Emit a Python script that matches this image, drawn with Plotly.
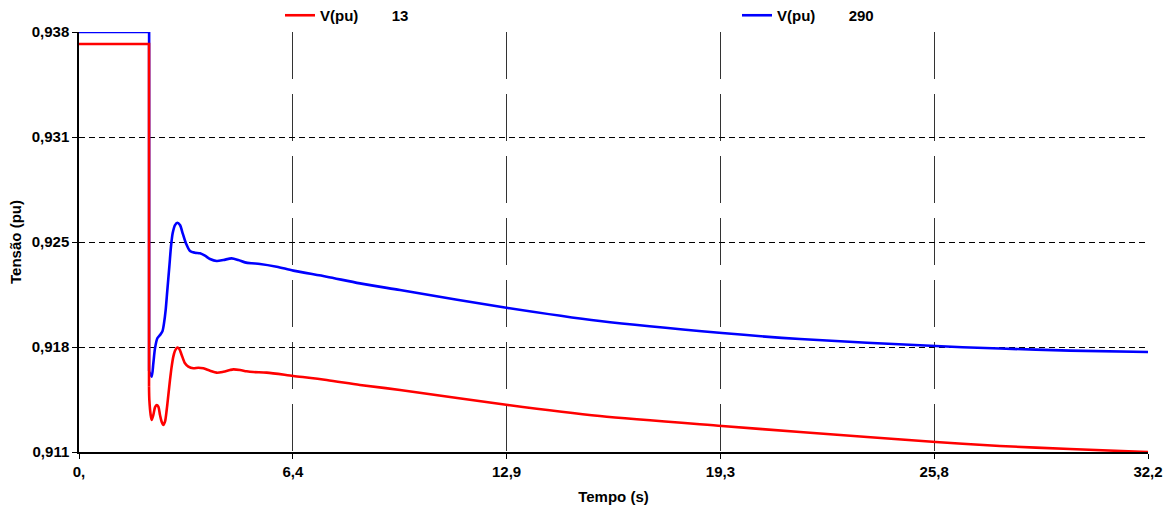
import plotly.graph_objects as go

# ---- data ----
t_red = [0.0, 2.109, 2.109, 2.119, 2.159, 2.189, 2.239, 2.289, 2.340, 2.390, 2.440,
         2.490, 2.540, 2.590, 2.641, 2.691, 2.741, 2.791, 2.841, 2.892, 2.962, 3.022,
         3.093, 3.193, 3.293, 3.444, 3.595, 3.745, 3.946, 4.147, 4.348, 4.548, 4.649,
         4.850, 5.050, 5.251, 5.653, 6.456, 7.460, 8.464, 9.67, 12.92, 15.69, 19.37,
         21.72, 25.81, 27.74, 29.85, 32.2]
v_red = [0.93723, 0.93723, 0.91520, 0.91434, 0.91338, 0.91306, 0.91338, 0.91387,
         0.91402, 0.91391, 0.91338, 0.91295, 0.91274, 0.91295, 0.91370, 0.91466,
         0.91563, 0.91649, 0.91713, 0.91751, 0.91771, 0.91762, 0.91724, 0.91670,
         0.91649, 0.91638, 0.91642, 0.91638, 0.91623, 0.91610, 0.91616, 0.91627,
         0.91631, 0.91627, 0.91619, 0.91614, 0.91610, 0.91589, 0.91563, 0.91531,
         0.91499, 0.91402, 0.91331, 0.91267, 0.91229, 0.91164, 0.91139, 0.91119,
         0.91100]

t_blue = [0.0, 2.112, 2.112, 2.189, 2.239, 2.289, 2.360, 2.440, 2.510, 2.560, 2.611,
          2.661, 2.721, 2.771, 2.821, 2.892, 2.962, 3.042, 3.123, 3.223, 3.344, 3.494,
          3.645, 3.795, 3.946, 4.147, 4.348, 4.599, 4.800, 5.000, 5.201, 5.452, 5.954,
          6.456, 7.460, 8.464, 9.67, 12.92, 15.69, 19.37, 21.72, 25.81, 27.74, 29.85,
          32.2]
v_blue = [0.938, 0.938, 0.91620, 0.91584, 0.91670, 0.91766, 0.91831, 0.91852, 0.91874,
          0.91927, 0.92013, 0.92141, 0.92291, 0.92420, 0.92506, 0.92559, 0.92574,
          0.92559, 0.92506, 0.92441, 0.92392, 0.92381, 0.92377, 0.92362, 0.92341,
          0.92328, 0.92334, 0.92345, 0.92334, 0.92319, 0.92313, 0.92309, 0.92291,
          0.92266, 0.92227, 0.92184, 0.92141, 0.92026, 0.91942, 0.91865, 0.91826,
          0.91781, 0.91765, 0.91752, 0.91743]

x_tickvals = [0.0, 6.44, 12.88, 19.32, 25.76, 32.2]
x_ticktext = ["0,", "6,4", "12,9", "19,3", "25,8", "32,2"]
y_tickvals = [0.911, 0.91775, 0.9245, 0.93125, 0.938]
y_ticktext = ["0,911", "0,918", "0,925", "0,931", "0,938"]

name_red = "V(pu)" + "\u00a0" * 8 + "13"
name_blue = "V(pu)" + "\u00a0" * 8 + "290"

FONT = "Liberation Sans, Arial, sans-serif"
BOLD15 = dict(family=FONT, size=15, color="black", weight="bold")
STEP = 3  # pre-fault level + the instantaneous drop are drawn as straight segments


def add_series(t, v, color, name, legend):
    # straight pre-fault plateau and vertical drop
    fig.add_trace(go.Scatter(x=t[:STEP], y=v[:STEP], mode="lines", name=name,
                             line=dict(color=color, width=2.6), cliponaxis=False,
                             legendgroup=name, showlegend=True, legend=legend))
    # smooth post-fault response
    fig.add_trace(go.Scatter(x=t[STEP - 1:], y=v[STEP - 1:], mode="lines", name=name,
                             line=dict(color=color, width=2.6, shape="spline", smoothing=0.8),
                             cliponaxis=False, legendgroup=name, showlegend=False,
                             legend=legend))


fig = go.Figure()
add_series(t_blue, v_blue, "#0000ff", name_blue, "legend2")
add_series(t_red, v_red, "#ff0000", name_red, "legend")

L, R, T, B = 79, 23, 32, 56
W, H = 1171, 508
pw = W - L - R

fig.update_layout(
    width=W, height=H, showlegend=True,
    margin=dict(l=L, r=R, t=T, b=B, pad=0, autoexpand=False),
    paper_bgcolor="white", plot_bgcolor="white",
    font=dict(family=FONT, size=15, color="black"),
    legend=dict(orientation="h", x=(280 - L) / pw, y=1.0, xanchor="left", yanchor="bottom",
                font=BOLD15, bgcolor="rgba(0,0,0,0)"),
    legend2=dict(orientation="h", x=(737 - L) / pw, y=1.0, xanchor="left", yanchor="bottom",
                 font=BOLD15, bgcolor="rgba(0,0,0,0)"),
    xaxis=dict(range=[0, 32.2], tickmode="array", tickvals=x_tickvals, ticktext=x_ticktext,
               showline=True, linecolor="black", linewidth=2,
               ticks="outside", ticklen=5, tickcolor="black",
               showgrid=True, gridcolor="#333333", gridwidth=1, griddash="47px,15px",
               zeroline=False, tickfont=BOLD15,
               title=dict(text="Tempo (s)", standoff=12, font=BOLD15)),
    yaxis=dict(range=[0.911, 0.938], tickmode="array", tickvals=y_tickvals, ticktext=y_ticktext,
               showline=True, linecolor="black", linewidth=1.5,
               ticks="outside", ticklen=5, tickcolor="black",
               showgrid=True, gridcolor="black", gridwidth=1, griddash="6px,4px",
               zeroline=False, tickfont=BOLD15,
               title=dict(text="Tensão (pu)", standoff=6, font=BOLD15)),
)

fig.write_html("out.html")
